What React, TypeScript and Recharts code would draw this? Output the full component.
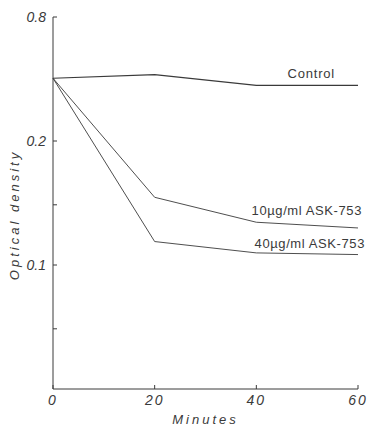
import { LineChart, Line, XAxis, YAxis, LabelList } from 'recharts';

const MINUTES = [0, 20, 40, 60];
const CONTROL = [0.284, 0.29, 0.273, 0.273];
const ASK_10 = [0.284, 0.146, 0.127, 0.123];
const ASK_40 = [0.284, 0.114, 0.107, 0.106];

const X_TICKS = [0, 20, 40, 60];
const Y_TICKS = [0.07, 0.1, 0.14, 0.2, 0.4];
const Y_TICK_LABELS = ['', '0.1', '', '0.2', '0.8'];

const SERIES = [
  { key: 'control', name: 'Control', values: CONTROL, dx: -23, dy: -11, width: 1.2, spacing: 0.8 },
  { key: 'ask10', name: '10\u00b5g/ml ASK-753', values: ASK_10, dx: 4, dy: -16, width: 0.9, spacing: 0.6 },
  { key: 'ask40', name: '40\u00b5g/ml ASK-753', values: ASK_40, dx: 7, dy: -10, width: 0.9, spacing: 0.6 },
];

const data = MINUTES.map((m, i) => {
  const row: Record<string, number> = { minute: m };
  SERIES.forEach((s) => { row[s.key] = s.values[i]; });
  return row;
});

const INK = '#3a3a3a';
const FONT = '"Liberation Sans", Arial, sans-serif';

function endLabel(name: string, dx: number, dy: number, spacing: number) {
  return (props: any) => {
    const { x, y, index } = props;
    if (index !== MINUTES.length - 1) return null;
    return (
      <text x={x + dx} y={y + dy} textAnchor="end" dominantBaseline="middle"
        fill={INK} fontSize={13} fontFamily={FONT} letterSpacing={spacing}>
        {name}
      </text>
    );
  };
}

export default function App() {
  return (
    <div style={{ position: 'absolute', left: 0, top: 0, background: '#fff' }}>
      <LineChart width={368} height={428} data={data} margin={{ top: 17, right: 10, bottom: 0, left: 0 }}>
        <XAxis
          dataKey="minute"
          type="number"
          domain={[0, 60]}
          ticks={X_TICKS}
          height={39}
          tickSize={-4}
          tickMargin={10}
          axisLine={{ stroke: INK }}
          tickLine={{ stroke: INK }}
          tick={{ fill: INK, fontSize: 14, fontFamily: FONT, fontStyle: 'italic', letterSpacing: 2 }}
          label={{ value: 'Minutes', position: 'insideBottom', offset: 4, fill: INK, fontSize: 13, fontFamily: FONT, fontStyle: 'italic', letterSpacing: 3 } as any}
        />
        <YAxis
          scale="log"
          domain={[0.05, 0.4]}
          allowDataOverflow
          ticks={Y_TICKS}
          width={53}
          tickSize={-4}
          tickMargin={11}
          axisLine={{ stroke: INK }}
          tickLine={{ stroke: INK }}
          tickFormatter={(v: number) => Y_TICK_LABELS[Y_TICKS.indexOf(v)] ?? ''}
          tick={{ fill: INK, fontSize: 14, fontFamily: FONT, fontStyle: 'italic' }}
          label={{
            content: () => (
              <text x={16} y={215} transform="rotate(-90 16 215)" textAnchor="middle" dominantBaseline="middle"
                fill={INK} fontSize={13} fontFamily={FONT} fontStyle="italic" letterSpacing={3}>
                Optical   density
              </text>
            ),
          } as any}
        />
        {SERIES.map((s) => (
          <Line key={s.key} dataKey={s.key} type="linear" stroke={INK} strokeWidth={s.width}
            dot={false} activeDot={false} isAnimationActive={false}>
            <LabelList dataKey={s.key} content={endLabel(s.name, s.dx, s.dy, s.spacing)} />
          </Line>
        ))}
      </LineChart>
    </div>
  );
}
